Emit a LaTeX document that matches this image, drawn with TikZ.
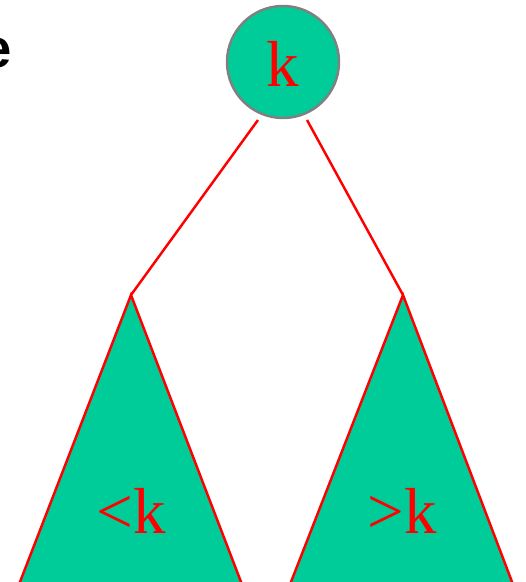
\documentclass[tikz,border=0pt]{standalone}
\usepackage{fontspec}
\setmainfont{Liberation Serif}
\setsansfont{Liberation Sans}
\definecolor{treeGreen}{RGB}{0, 204, 153}
\definecolor{edgeRed}{RGB}{255, 0, 0}
\definecolor{rimGray}{RGB}{128, 128, 128}

\begin{document}
\begin{tikzpicture}
    \useasboundingbox (0,0) rectangle (10.5,11.64);
    \clip (0,0) rectangle (10.5,11.64);

    \node (cut) at (0.25,10.28) [anchor=base east, inner sep=0pt, font=\sffamily\bfseries\fontsize{31}{34}\selectfont] {e};

    \node (root) at (5.66,10.40) [circle, fill=treeGreen, draw=rimGray, line width=1.4pt, minimum size=2.24cm, inner sep=0pt] {};
    \node (rootkey) at (5.66,9.90) [anchor=base, text=edgeRed, inner sep=0pt] {\fontsize{37}{40}\selectfont k};

    \coordinate (lapex) at (2.62,5.74);
    \coordinate (rapex) at (8.06,5.74);

    \filldraw[fill=treeGreen, draw=edgeRed, line width=1.4pt] (lapex) -- (4.84,-0.05) -- (0.38,-0.05) -- cycle;
    \filldraw[fill=treeGreen, draw=edgeRed, line width=1.4pt] (rapex) -- (10.26,-0.05) -- (5.80,-0.05) -- cycle;

    \draw[edgeRed, line width=1.4pt] (5.16,9.24) -- (lapex);
    \draw[edgeRed, line width=1.4pt] (6.14,9.24) -- (rapex);

    \node (lesskey) at (2.62,0.96) [anchor=base, text=edgeRed, inner sep=0pt] {\fontsize{37}{40}\selectfont <k};
    \node (morekey) at (8.04,0.96) [anchor=base, text=edgeRed, inner sep=0pt] {\fontsize{37}{40}\selectfont >k};
  \end{tikzpicture}
\end{document}
